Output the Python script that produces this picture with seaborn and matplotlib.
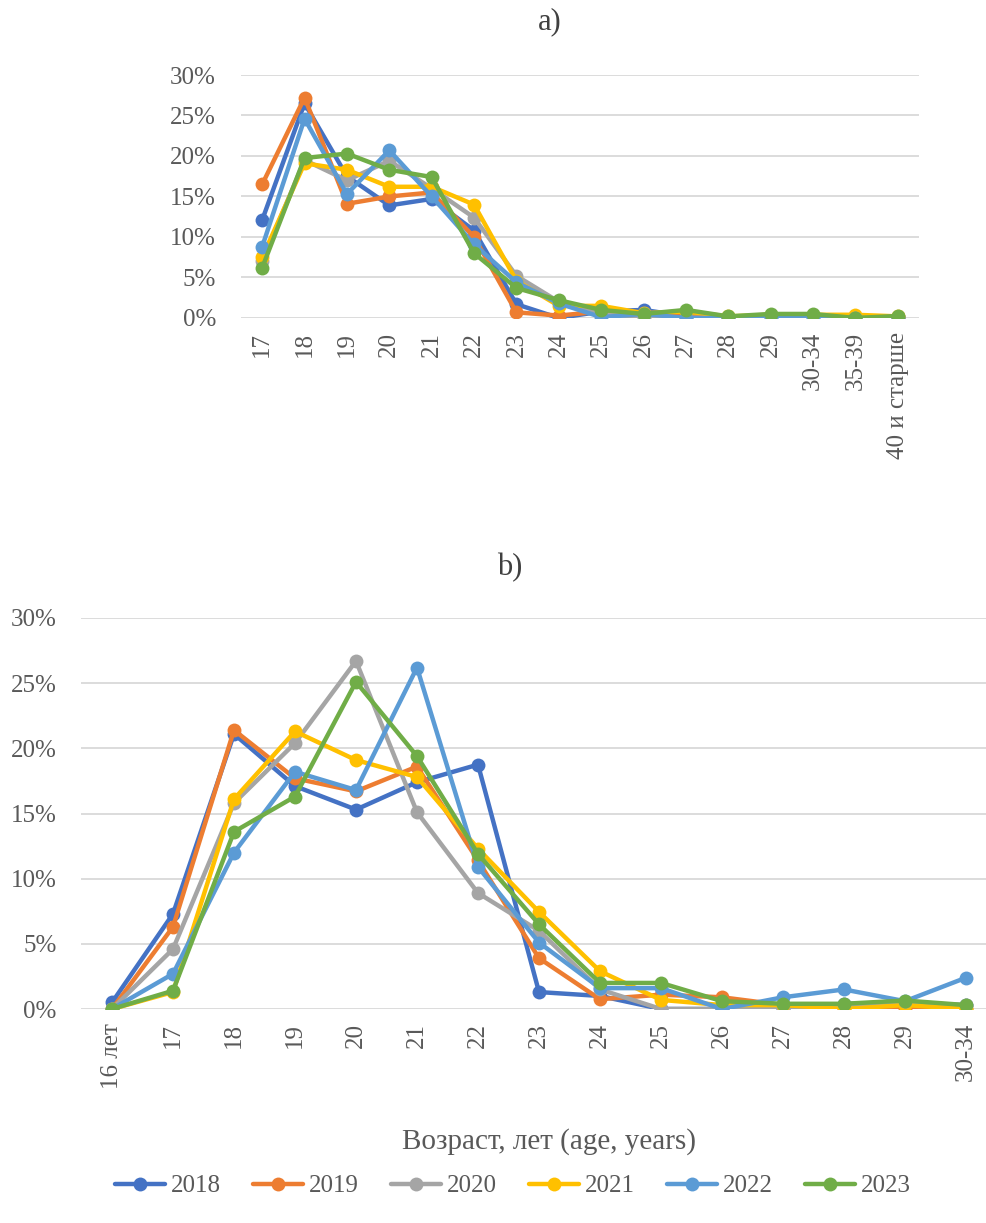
import matplotlib
matplotlib.use("Agg")
import matplotlib.pyplot as plt
import seaborn as sns
import pandas as pd
import numpy as np
from matplotlib.ticker import FuncFormatter

years = ["2018", "2019", "2020", "2021", "2022", "2023"]
colors = ["#4472C4", "#ED7D31", "#A5A5A5", "#FFC000", "#5B9BD5", "#70AD47"]

cats_a = ["17", "18", "19", "20", "21", "22", "23", "24", "25", "26", "27", "28",
          "29", "30-34", "35-39", "40 и старше"]
a_2018 = [12.1, 26.5, 17.5, 13.9, 14.7, 10.8, 1.7, 0.0, 0.8, 1.0, 0.2, 0.1, 0.2, 0.3, 0.1, 0.1]
a_2019 = [16.5, 27.2, 14.1, 15.0, 15.5, 10.0, 0.7, 0.3, 0.8, 0.3, 0.2, 0.1, 0.2, 0.3, 0.1, 0.1]
a_2020 = [7.0, 19.5, 17.0, 19.4, 16.0, 12.4, 5.2, 2.0, 0.5, 0.1, 0.0, 0.1, 0.2, 0.3, 0.1, 0.1]
a_2021 = [7.5, 19.1, 18.3, 16.2, 16.2, 14.0, 4.6, 1.5, 1.5, 0.6, 0.8, 0.2, 0.4, 0.4, 0.4, 0.2]
a_2022 = [8.8, 24.6, 15.3, 20.7, 15.0, 9.1, 4.4, 1.8, 0.1, 0.5, 0.0, 0.0, 0.0, 0.0, 0.0, 0.0]
a_2023 = [6.2, 19.75, 20.3, 18.3, 17.4, 8.0, 3.7, 2.2, 1.0, 0.5, 1.0, 0.2, 0.5, 0.5, 0.0, 0.25]

cats_b = ["16 лет", "17", "18", "19", "20", "21", "22", "23", "24", "25", "26", "27",
          "28", "29", "30-34"]
b_2018 = [0.5, 7.3, 21.1, 17.1, 15.3, 17.4, 18.75, 1.3, 1.0, 0.0, 0.0, 0.0, 0.4, 0.4, 0.3]
b_2019 = [0.0, 6.3, 21.4, 17.7, 16.7, 18.6, 11.4, 3.9, 0.75, 1.1, 0.9, 0.3, 0.0, 0.0, 0.0]
b_2020 = [0.0, 4.6, 15.8, 20.4, 26.7, 15.1, 8.9, 6.0, 1.5, 0.0, 0.0, 0.0, 0.3, 0.5, 0.3]
b_2021 = [0.0, 1.3, 16.1, 21.3, 19.1, 17.8, 12.3, 7.45, 2.9, 0.7, 0.3, 0.3, 0.0, 0.3, 0.0]
b_2022 = [0.0, 2.7, 12.0, 18.2, 16.8, 26.2, 10.9, 5.1, 1.6, 1.6, 0.0, 0.9, 1.5, 0.6, 2.4]
b_2023 = [0.0, 1.4, 13.6, 16.3, 25.1, 19.4, 11.9, 6.5, 2.0, 2.0, 0.6, 0.4, 0.4, 0.65, 0.3]

series_a = [a_2018, a_2019, a_2020, a_2021, a_2022, a_2023]
series_b = [b_2018, b_2019, b_2020, b_2021, b_2022, b_2023]

sns.set_theme(style="white")
plt.rcParams["font.family"] = ["Liberation Serif", "DejaVu Serif"]

def long_df(cats, series):
    rows = []
    for y, vals in zip(years, series):
        for i, (c, v) in enumerate(zip(cats, vals)):
            rows.append({"pos": i, "cat": c, "year": y, "value": v})
    return pd.DataFrame(rows)

df_a = long_df(cats_a, series_a)
df_b = long_df(cats_b, series_b)

fig = plt.figure(figsize=(9.87, 12.23), dpi=100)
W, H = 987, 1223
ax_a = fig.add_axes([241 / W, 1 - 318 / H, 678 / W, 243 / H])
ax_b = fig.add_axes([81.5 / W, 1 - 1009 / H, (987 - 81.5) / W, 391 / H])

pal = dict(zip(years, colors))
tick_color = "#595959"
FS = 18

def style(ax, df, cats, right_lim):
    sns.lineplot(data=df, x="pos", y="value", hue="year", palette=pal, ax=ax,
                 marker="o", markersize=10, markeredgewidth=0, linewidth=3.2,
                 sort=False, legend=True)
    ax.set_xlim(-0.5, right_lim)
    ax.set_ylim(0, 30)
    ax.set_yticks(np.arange(0, 31, 5))
    ax.yaxis.set_major_formatter(FuncFormatter(lambda v, p: f"{int(v)}%"))
    ax.set_xticks(range(len(cats)))
    ax.set_xticklabels(cats, rotation=90, fontsize=FS, color=tick_color)
    ax.tick_params(axis="y", labelsize=FS, labelcolor=tick_color, length=0, pad=18)
    ax.tick_params(axis="x", length=0, pad=10)
    ax.grid(axis="y", color="#D9D9D9", linewidth=1.3)
    ax.grid(axis="x", visible=False)
    for s in ax.spines.values():
        s.set_visible(False)
    ax.set_xlabel("")
    ax.set_ylabel("")
    ax.set_axisbelow(True)

style(ax_a, df_a, cats_a, len(cats_a) - 0.5)
style(ax_b, df_b, cats_b, (987 - 81.5) / 61 - 0.5)

handles, labels = ax_b.get_legend_handles_labels()
ax_a.get_legend().remove()
ax_b.get_legend().remove()
for h in handles:
    h.set_linewidth(3.2)
    h.set_markersize(10)
fig.legend(handles, labels, loc="center", bbox_to_anchor=(513 / W, 1 - 1186 / H),
           ncol=6, frameon=False, fontsize=FS, handlelength=2.0, columnspacing=1.28,
           handletextpad=0.24, labelcolor=tick_color)

fig.text(550 / W, 1 - 22 / H, "a)", ha="center", va="center", fontsize=22, color="#404040")
fig.text(510 / W, 1 - 568 / H, "b)", ha="center", va="center", fontsize=22, color="#404040")
fig.text(549 / W, 1 - 1142 / H, "Возраст, лет (age, years)", ha="center", va="center",
         fontsize=21, color=tick_color)

fig.savefig("out.png", dpi=100)
